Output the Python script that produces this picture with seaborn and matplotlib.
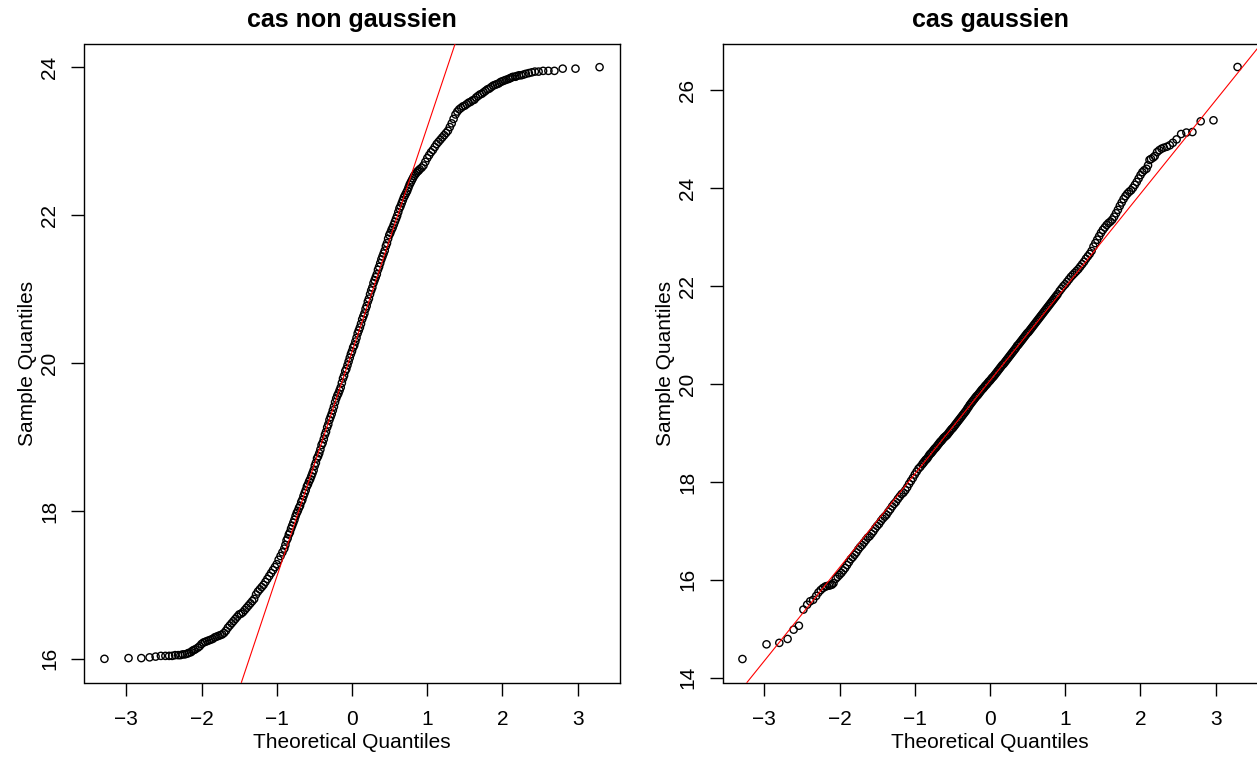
import matplotlib
matplotlib.use("Agg")
import matplotlib.pyplot as plt
import seaborn as sns
import pandas as pd

# ---------------- data ----------------
titles = ["cas non gaussien", "cas gaussien"]
x_label = "Theoretical Quantiles"
y_label = "Sample Quantiles"
x_ticks = [-3, -2, -1, 0, 1, 2, 3]
y_ticks_left = [16, 18, 20, 22, 24]
y_ticks_right = [14, 16, 18, 20, 22, 24, 26]

# theoretical normal quantiles (shared by both panels)
theo_low_tail = [-3.29, -2.97, -2.80, -2.69, -2.61, -2.54, -2.48, -2.43, -2.39, -2.35,
                 -2.31, -2.28, -2.25, -2.22, -2.19, -2.17, -2.14, -2.12, -2.10, -2.08]
theo_low = [-2.05, -2.025, -2.0, -1.975, -1.95, -1.925, -1.9, -1.875, -1.85, -1.825,
            -1.8, -1.775, -1.75, -1.725, -1.7, -1.675, -1.65, -1.625, -1.6, -1.575,
            -1.55, -1.525, -1.5, -1.475, -1.45, -1.425, -1.4, -1.375, -1.35, -1.325,
            -1.3, -1.275, -1.25, -1.225, -1.2, -1.175, -1.15, -1.125, -1.1, -1.075,
            -1.05, -1.025, -1.0, -0.975, -0.95, -0.925]
theo_mid = [-0.9, -0.885, -0.87, -0.855, -0.84, -0.825, -0.81, -0.795, -0.78, -0.765,
            -0.75, -0.735, -0.72, -0.705, -0.69, -0.675, -0.66, -0.645, -0.63, -0.615,
            -0.6, -0.585, -0.57, -0.555, -0.54, -0.525, -0.51, -0.495, -0.48, -0.465,
            -0.45, -0.435, -0.42, -0.405, -0.39, -0.375, -0.36, -0.345, -0.33, -0.315,
            -0.3, -0.285, -0.27, -0.255, -0.24, -0.225, -0.21, -0.195, -0.18, -0.165,
            -0.15, -0.135, -0.12, -0.105, -0.09, -0.075, -0.06, -0.045, -0.03, -0.015,
            0.0, 0.015, 0.03, 0.045, 0.06, 0.075, 0.09, 0.105, 0.12, 0.135,
            0.15, 0.165, 0.18, 0.195, 0.21, 0.225, 0.24, 0.255, 0.27, 0.285,
            0.3, 0.315, 0.33, 0.345, 0.36, 0.375, 0.39, 0.405, 0.42, 0.435,
            0.45, 0.465, 0.48, 0.495, 0.51, 0.525, 0.54, 0.555, 0.57, 0.585,
            0.6, 0.615, 0.63, 0.645, 0.66, 0.675, 0.69, 0.705, 0.72, 0.735,
            0.75, 0.765, 0.78, 0.795, 0.81, 0.825, 0.84, 0.855, 0.87, 0.885,
            0.9]
theo_high = [0.925, 0.95, 0.975, 1.0, 1.025, 1.05, 1.075, 1.1, 1.125, 1.15,
             1.175, 1.2, 1.225, 1.25, 1.275, 1.3, 1.325, 1.35, 1.375, 1.4,
             1.425, 1.45, 1.475, 1.5, 1.525, 1.55, 1.575, 1.6, 1.625, 1.65,
             1.675, 1.7, 1.725, 1.75, 1.775, 1.8, 1.825, 1.85, 1.875, 1.9,
             1.925, 1.95, 1.975, 2.0, 2.025, 2.05]
theo_high_tail = [2.08, 2.10, 2.12, 2.14, 2.17, 2.19, 2.22, 2.25, 2.28, 2.31,
                  2.35, 2.39, 2.43, 2.48, 2.54, 2.61, 2.69, 2.80, 2.97, 3.29]

# sample quantiles, non gaussian case
left_low_tail = [16.00, 16.01, 16.01, 16.02, 16.03, 16.04, 16.04, 16.04, 16.04, 16.05,
                 16.05, 16.05, 16.06, 16.06, 16.07, 16.08, 16.09, 16.11, 16.12, 16.13]
left_low = [16.15, 16.17, 16.20, 16.22, 16.23, 16.24, 16.25, 16.26, 16.27, 16.29,
            16.30, 16.31, 16.32, 16.33, 16.35, 16.38, 16.42, 16.45, 16.48, 16.51,
            16.54, 16.57, 16.60, 16.61, 16.63, 16.66, 16.69, 16.72, 16.75, 16.78,
            16.81, 16.87, 16.91, 16.94, 16.97, 17.00, 17.04, 17.08, 17.12, 17.16,
            17.20, 17.24, 17.28, 17.34, 17.39, 17.44]
left_mid = [17.49, 17.54, 17.60, 17.63, 17.68, 17.71, 17.76, 17.80, 17.84, 17.88,
            17.93, 17.97, 18.00, 18.04, 18.07, 18.12, 18.15, 18.20, 18.24, 18.28,
            18.33, 18.36, 18.40, 18.43, 18.47, 18.51, 18.55, 18.61, 18.65, 18.71,
            18.74, 18.78, 18.83, 18.89, 18.92, 18.97, 19.03, 19.07, 19.13, 19.17,
            19.23, 19.27, 19.31, 19.36, 19.41, 19.47, 19.52, 19.56, 19.59, 19.63,
            19.67, 19.73, 19.79, 19.83, 19.89, 19.92, 19.97, 20.02, 20.07, 20.12,
            20.16, 20.21, 20.24, 20.29, 20.34, 20.40, 20.44, 20.48, 20.53, 20.59,
            20.63, 20.67, 20.73, 20.77, 20.83, 20.87, 20.93, 20.98, 21.02, 21.08,
            21.12, 21.16, 21.20, 21.26, 21.30, 21.35, 21.40, 21.44, 21.48, 21.52,
            21.58, 21.62, 21.68, 21.73, 21.76, 21.80, 21.83, 21.87, 21.91, 21.95,
            21.99, 22.04, 22.09, 22.12, 22.16, 22.20, 22.24, 22.27, 22.30, 22.33,
            22.37, 22.41, 22.44, 22.47, 22.50, 22.53, 22.55, 22.57, 22.59, 22.60,
            22.62]
left_high = [22.64, 22.67, 22.72, 22.77, 22.81, 22.85, 22.88, 22.92, 22.96, 22.99,
             23.02, 23.05, 23.08, 23.11, 23.14, 23.19, 23.24, 23.30, 23.36, 23.40,
             23.43, 23.45, 23.47, 23.48, 23.50, 23.52, 23.53, 23.55, 23.56, 23.59,
             23.61, 23.63, 23.64, 23.66, 23.68, 23.70, 23.71, 23.73, 23.75, 23.76,
             23.77, 23.78, 23.80, 23.81, 23.82, 23.83]
left_high_tail = [23.84, 23.85, 23.86, 23.87, 23.87, 23.88, 23.89, 23.89, 23.90, 23.91,
                  23.92, 23.93, 23.94, 23.94, 23.95, 23.95, 23.95, 23.98, 23.98, 24.00]

# sample quantiles, gaussian case
right_low_tail = [14.38, 14.68, 14.71, 14.79, 14.98, 15.06, 15.39, 15.49, 15.56, 15.59,
                  15.67, 15.74, 15.79, 15.83, 15.86, 15.87, 15.88, 15.89, 15.90, 15.93]
right_low = [16.02, 16.06, 16.10, 16.14, 16.19, 16.24, 16.30, 16.36, 16.42, 16.46,
             16.51, 16.56, 16.62, 16.67, 16.71, 16.76, 16.81, 16.86, 16.89, 16.94,
             16.99, 17.05, 17.10, 17.14, 17.20, 17.25, 17.29, 17.33, 17.39, 17.44,
             17.50, 17.55, 17.59, 17.65, 17.70, 17.75, 17.78, 17.83, 17.89, 17.96,
             18.02, 18.08, 18.15, 18.21, 18.27, 18.31]
right_mid = [18.36, 18.39, 18.42, 18.45, 18.47, 18.50, 18.54, 18.57, 18.59, 18.62,
             18.65, 18.68, 18.70, 18.73, 18.76, 18.79, 18.82, 18.84, 18.87, 18.90,
             18.92, 18.94, 18.96, 18.99, 19.02, 19.05, 19.08, 19.10, 19.13, 19.16,
             19.19, 19.22, 19.25, 19.28, 19.31, 19.34, 19.37, 19.40, 19.43, 19.46,
             19.50, 19.53, 19.57, 19.60, 19.63, 19.66, 19.69, 19.72, 19.75, 19.77,
             19.80, 19.83, 19.86, 19.89, 19.91, 19.94, 19.97, 19.99, 20.02, 20.05,
             20.07, 20.10, 20.13, 20.15, 20.18, 20.21, 20.24, 20.27, 20.30, 20.33,
             20.36, 20.39, 20.41, 20.44, 20.47, 20.50, 20.53, 20.56, 20.59, 20.62,
             20.65, 20.68, 20.71, 20.74, 20.78, 20.80, 20.83, 20.86, 20.89, 20.92,
             20.95, 20.98, 21.01, 21.04, 21.06, 21.09, 21.12, 21.15, 21.18, 21.21,
             21.24, 21.27, 21.30, 21.33, 21.36, 21.39, 21.42, 21.45, 21.48, 21.51,
             21.54, 21.57, 21.60, 21.63, 21.66, 21.69, 21.72, 21.75, 21.78, 21.81,
             21.84]
right_high = [21.90, 21.95, 22.00, 22.04, 22.09, 22.14, 22.19, 22.23, 22.27, 22.31,
              22.35, 22.40, 22.45, 22.50, 22.56, 22.61, 22.66, 22.72, 22.81, 22.88,
              22.95, 23.02, 23.09, 23.15, 23.20, 23.25, 23.29, 23.32, 23.36, 23.42,
              23.49, 23.56, 23.64, 23.71, 23.78, 23.84, 23.89, 23.93, 23.96, 24.01,
              24.07, 24.13, 24.20, 24.27, 24.33, 24.37]
right_high_tail = [24.40, 24.47, 24.58, 24.60, 24.63, 24.66, 24.74, 24.78, 24.81, 24.83,
                   24.85, 24.88, 24.93, 25.00, 25.11, 25.14, 25.15, 25.37, 25.39, 26.48]

# qqline (intercept, slope) for each panel
qqline_left = (20.15, 3.04)
qqline_right = (20.07, 1.91)

# ---------------- assemble ----------------
theoretical = theo_low_tail + theo_low + theo_mid + theo_high + theo_high_tail
sample_left = left_low_tail + left_low + left_mid + left_high + left_high_tail
sample_right = right_low_tail + right_low + right_mid + right_high + right_high_tail

sns.set_theme(style="white")
plt.rcParams["font.family"] = ["Liberation Sans", "DejaVu Sans"]
plt.rcParams["axes.unicode_minus"] = True
plt.rcParams["text.color"] = "black"
plt.rcParams["axes.labelcolor"] = "black"
plt.rcParams["xtick.color"] = "black"
plt.rcParams["ytick.color"] = "black"

W, H = 1257, 759
fig = plt.figure(figsize=(W / 100, H / 100), dpi=100)
fig.patch.set_facecolor("white")

bottom_px, top_px = 682.5, 43.5
ax_h = (bottom_px - top_px) / H
ax_w = 535 / W
ax_left = fig.add_axes([84.5 / W, (H - bottom_px) / H, ax_w, ax_h])
ax_right = fig.add_axes([722.5 / W, (H - bottom_px) / H, ax_w, ax_h])

panels = [
    (ax_left, sample_left, titles[0], (15.68, 24.32), y_ticks_left, qqline_left),
    (ax_right, sample_right, titles[1], (13.90, 26.96), y_ticks_right, qqline_right),
]

for ax, sample, title, ylim, yticks, (icpt, slope) in panels:
    df = pd.DataFrame({"theo": theoretical, "sample": sample})
    sns.scatterplot(data=df, x="theo", y="sample", ax=ax, marker="o", s=27,
                    linewidth=1.0, legend=False, zorder=2)
    coll = ax.collections[-1]
    coll.set_facecolor("none")
    coll.set_edgecolor("black")
    ax.axline((0, icpt), slope=slope, color="red", lw=0.8, zorder=3)

    ax.set_xlim(-3.555, 3.555)
    ax.set_ylim(*ylim)
    ax.set_xticks(x_ticks)
    ax.set_yticks(yticks)
    ax.set_title(title, fontsize=18, fontweight="bold", pad=12, color="black")
    ax.set_xlabel(x_label, fontsize=15, labelpad=2.5)
    ax.set_ylabel(y_label, fontsize=15, labelpad=1.8)
    ax.tick_params(axis="both", direction="out", length=9.4, width=1.0,
                   color="black", labelsize=15, labelcolor="black",
                   bottom=True, left=True)
    ax.tick_params(axis="x", pad=10.5)
    ax.tick_params(axis="y", pad=9)
    for lab in ax.get_yticklabels():
        lab.set_rotation(90)
        lab.set_va("center")
    for sp in ax.spines.values():
        sp.set_visible(True)
        sp.set_color("black")
        sp.set_linewidth(1.0)
    ax.set_facecolor("white")
    ax.grid(False)

fig.savefig("out.png", dpi=100, facecolor="white")
